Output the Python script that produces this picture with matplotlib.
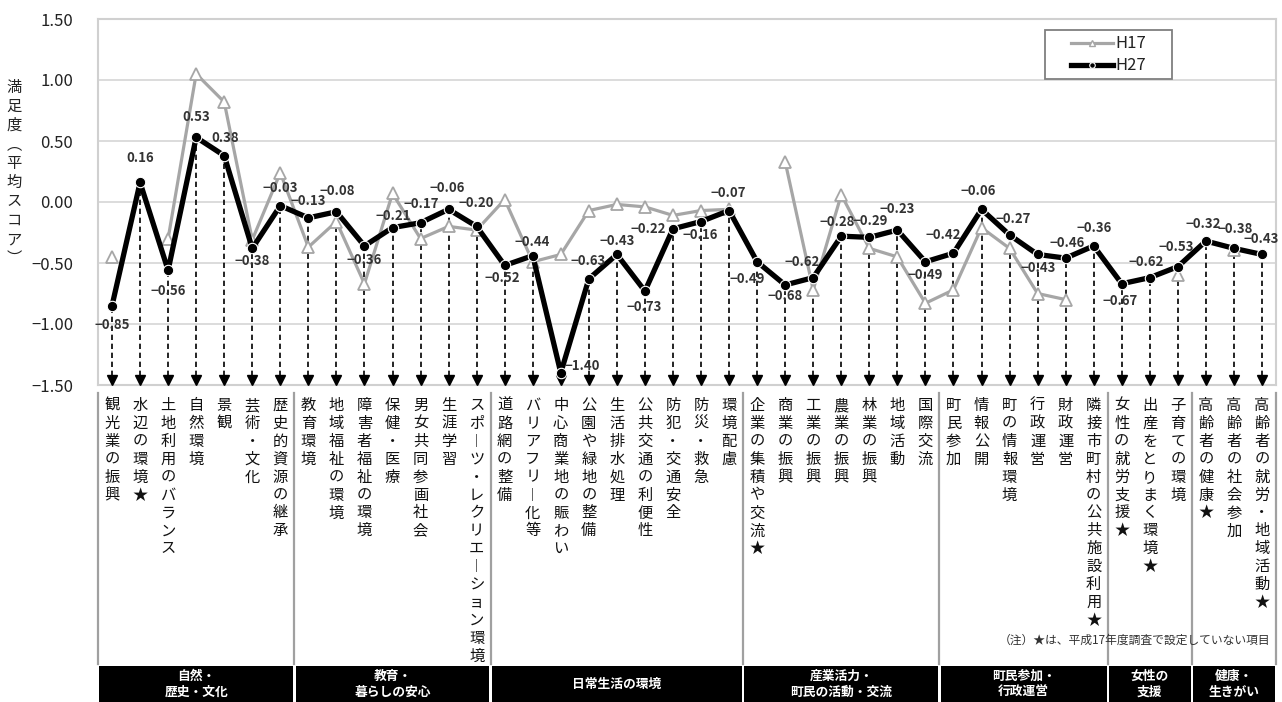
import numpy as np
import matplotlib
matplotlib.use("Agg")
import matplotlib.pyplot as plt
from matplotlib import transforms
from matplotlib.patches import Rectangle
from matplotlib.lines import Line2D

plt.rcParams['font.family'] = ['Noto Sans CJK JP', 'DejaVu Sans']

# ---------------- data ----------------
categories = [
    "観光業の振興", "水辺の環境★", "土地利用のバランス", "自然環境", "景観", "芸術・文化", "歴史的資源の継承",
    "教育環境", "地域福祉の環境", "障害者福祉の環境", "保健・医療", "男女共同参画社会", "生涯学習", "スポーツ・レクリエーション環境",
    "道路網の整備", "バリアフリー化等", "中心商業地の賑わい", "公園や緑地の整備", "生活排水処理", "公共交通の利便性",
    "防犯・交通安全", "防災・救急", "環境配慮",
    "企業の集積や交流★", "商業の振興", "工業の振興", "農業の振興", "林業の振興", "地域活動", "国際交流",
    "町民参加", "情報公開", "町の情報環境", "行政運営", "財政運営", "隣接市町村の公共施設利用★",
    "女性の就労支援★", "出産をとりまく環境★", "子育ての環境",
    "高齢者の健康★", "高齢者の社会参加", "高齢者の就労・地域活動★",
]
h27 = [-0.85, 0.16, -0.56, 0.53, 0.38, -0.38, -0.03,
       -0.13, -0.08, -0.36, -0.21, -0.17, -0.06, -0.20,
       -0.52, -0.44, -1.40, -0.63, -0.43, -0.73, -0.22, -0.16, -0.07,
       -0.49, -0.68, -0.62, -0.28, -0.29, -0.23, -0.49,
       -0.42, -0.06, -0.27, -0.43, -0.46, -0.36,
       -0.67, -0.62, -0.53,
       -0.32, -0.38, -0.43]
nan = np.nan
h17 = [-0.45, nan, -0.30, 1.05, 0.82, -0.31, 0.24,
       -0.37, -0.16, -0.67, 0.07, -0.30, -0.20, -0.23,
       0.02, -0.49, -0.43, -0.07, -0.02, -0.04, -0.11, -0.07, -0.06,
       nan, 0.33, -0.72, 0.06, -0.38, -0.45, -0.83,
       -0.72, -0.21, -0.38, -0.75, -0.80, nan,
       nan, nan, -0.60,
       nan, -0.39, nan]
groups = ["自然・\n歴史・文化", "教育・\n暮らしの安心", "日常生活の環境", "産業活力・\n町民の活動・交流",
          "町民参加・\n行政運営", "女性の\n支援", "健康・\n生きがい"]
group_sizes = [7, 7, 9, 7, 6, 3, 3]
series_names = ["H17", "H27"]
y_ticks = [-1.5, -1.0, -0.5, 0.0, 0.5, 1.0, 1.5]
ylabel = "満足度（平均スコア）"
note = "（注）★は、平成17年度調査で設定していない項目"

# label offsets (pixels) for the H27 value labels
label_off = [(0, 19), (0, -24), (0, 21), (0, -20), (1, -18), (0, 13), (0, -18),
             (0, -17), (1, -21), (0, 14), (1, -12), (1, -19), (-1, -21), (0, -23),
             (-2, 13), (-1, -14), (21, -7), (-1, -18), (0, -13), (-1, 16), (-25, 0), (-1, 13), (-1, -18),
             (-10, 17), (0, 11), (-11, -16), (-4, -14), (1, -16), (0, -21), (0, 13),
             (-10, -18), (-3, -18), (4, -16), (1, 14), (1, -15), (0, -18),
             (-2, 17), (-4, -16), (-2, -20),
             (-3, -17), (1, -19), (-1, -15)]

# ---------------- figure ----------------
W, H = 1282, 702
fig = plt.figure(figsize=(W / 100, H / 100), dpi=100)
L, R, T, B = 98, 1276, 19, 385
ax = fig.add_axes([L / W, 1 - B / H, (R - L) / W, (B - T) / H])

def fx(px):
    return px / W

def fy(py):
    return 1 - py / H

x = np.arange(len(categories))
ax.set_xlim(-0.5, len(categories) - 0.5)
ax.set_ylim(y_ticks[0], y_ticks[-1])
ax.set_yticks(y_ticks)
ax.set_yticklabels([f"{v:.2f}".replace("-", "−") for v in y_ticks], fontsize=12, color="#222222")
ax.tick_params(axis='y', length=0, pad=18)
ax.set_xticks([])
ax.grid(axis='y', color='#d9d9d9', lw=1.3)
ax.set_axisbelow(True)
for s in ax.spines.values():
    s.set_color('#d0d0d0')
    s.set_linewidth(1.5)

# dashed arrows
ax.vlines(x, y_ticks[0], h27, colors='black', linestyles=(0, (3.2, 2.2)), lw=1.2, zorder=2)
arrow_tr = transforms.offset_copy(ax.transData, fig=fig, x=0, y=5, units='dots')
ax.plot(x, [y_ticks[0]] * len(x), 'v', ms=7.5, color='black', transform=arrow_tr, clip_on=False, zorder=3)

# series
ax.plot(x, h17, color='#a6a6a6', lw=2.3, marker='^', ms=9, mfc='white', mec='#a6a6a6', mew=1.3, zorder=4)
ax.plot(x, h27, color='black', lw=3.8, marker='o', ms=7.5, mfc='black', mec='white', mew=0.8, zorder=5)

for i, v in enumerate(h27):
    dx, dy = label_off[i]
    ax.annotate(f"{v:.2f}".replace("-", "−"), (i, v), xytext=(dx, -dy), textcoords='offset pixels',
                ha='center', va='center', fontsize=9.5, fontweight='bold', color='#333333', zorder=6,
                annotation_clip=False)

# y label (vertical writing)
vlab = ylabel.replace("（", "︵").replace("）", "︶")
fig.text(fx(14), fy(173), "\n".join(vlab), ha='center', va='center', fontsize=11, linespacing=1.16,
         color='#222222')

# legend (manual)
fig.patches.append(Rectangle((fx(1045), fy(79)), fx(1172) - fx(1045), fy(30) - fy(79),
                             transform=fig.transFigure, facecolor='white', edgecolor='#7f7f7f', lw=1.3))
for j, (name, yy) in enumerate(zip(series_names, [43, 65])):
    if j == 0:
        fig.lines.append(Line2D([fx(1071), fx(1113)], [fy(yy)] * 2, transform=fig.transFigure,
                                color='#a6a6a6', lw=2.3))
        fig.lines.append(Line2D([fx(1092)], [fy(yy)], transform=fig.transFigure, marker='^', ms=5,
                                mfc='white', mec='#a6a6a6', mew=1.0, lw=0))
    else:
        fig.lines.append(Line2D([fx(1071), fx(1113)], [fy(yy)] * 2, transform=fig.transFigure,
                                color='black', lw=3.8))
        fig.lines.append(Line2D([fx(1092)], [fy(yy)], transform=fig.transFigure, marker='o', ms=4,
                                mfc='black', mec='white', mew=0.8, lw=0))
    fig.text(fx(1115), fy(yy), name, ha='left', va='center', fontsize=12, color='#222222')

# category labels (vertical writing)
btr = transforms.blended_transform_factory(ax.transData, fig.transFigure)
for i, c in enumerate(categories):
    vt = c.replace("ー", "︱")
    ax.text(i, fy(397), "\n".join(vt), transform=btr, ha='center', va='top', fontsize=11,
            linespacing=1.07, color='#111111', clip_on=False)

# group separators and boxes
bounds = np.concatenate([[0], np.cumsum(group_sizes)]) - 0.5
for b in bounds:
    ax.plot([b, b], [fy(393), fy(664)], transform=btr, color='#a0a0a0', lw=1.6, clip_on=False)
for k, g in enumerate(groups):
    x0, x1 = bounds[k], bounds[k + 1]
    p0 = ax.transData.transform((x0, 0))[0]
    p1 = ax.transData.transform((x1, 0))[0]
    fig.patches.append(Rectangle((fx(p0 + 1.2), fy(702)), fx(p1 - p0 - 2.4), fy(666) - fy(702),
                                 transform=fig.transFigure, facecolor='black', edgecolor='none'))
    fig.text(fx((p0 + p1) / 2), fy(684.5), g, ha='center', va='center', fontsize=9.2, fontweight='bold',
             color='white', linespacing=1.3)

fig.text(fx(1270), fy(640), note, ha='right', va='center', fontsize=8.5, color='#333333')

fig.savefig("out.png", dpi=100)
